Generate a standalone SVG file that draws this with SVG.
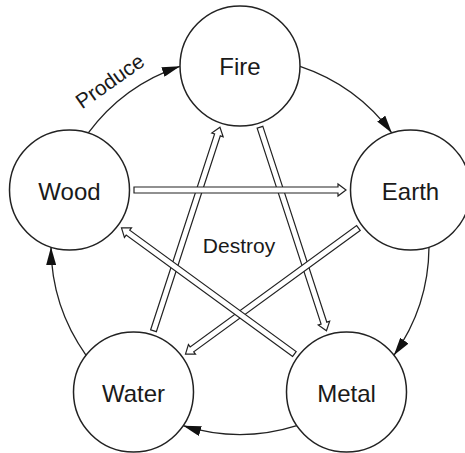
<svg xmlns="http://www.w3.org/2000/svg" width="465" height="453" viewBox="0 0 465 453">
  <style>
    .node circle { fill: #fff; stroke: #222; stroke-width: 1.5; }
    .label { font-family: "Liberation Sans", Arial, sans-serif; font-size: 24px; fill: #1a1a1a; text-anchor: middle; }
    .produce { fill: none; stroke: #222; stroke-width: 1.3; marker-end: url(#solid); }
    .destroy { fill: #fff; stroke: #222; stroke-width: 1.2; stroke-linejoin: miter; }
    .caption { font-family: "Liberation Sans", Arial, sans-serif; fill: #1a1a1a; }
  </style>
  <defs>
    <marker id="solid" markerUnits="userSpaceOnUse" viewBox="0 0 18 10" refX="18" refY="5" markerWidth="18" markerHeight="10" orient="auto">
      <path d="M0,0 L18,5 L0,10 Z" fill="#111"/>
    </marker>
  </defs>
  <rect width="465" height="453" fill="#fff"/>

  <g id="connectors">
    <g id="produce-arcs">
      <path class="produce" d="M88.1,133.1 A189,189 0 0 1 180.0,66.3"/>
      <path class="produce" d="M300.0,66.3 A189,189 0 0 1 391.9,133.1"/>
      <path class="produce" d="M429.0,247.1 A189,189 0 0 1 393.9,355.3"/>
      <path class="produce" d="M296.8,425.7 A189,189 0 0 1 183.2,425.7"/>
      <path class="produce" d="M86.1,355.3 A189,189 0 0 1 51.0,247.1"/>
    </g>
    <g id="destroy-arrows">
      <path class="destroy" transform="translate(153.5,330.7) rotate(-71.91)" d="M0,-3 L206,-3 L206,-6 L214,0 L206,6 L206,3 L0,3 Z"/>
      <path class="destroy" transform="translate(260.0,127.3) rotate(71.91)" d="M0,-3 L206,-3 L206,-6 L214,0 L206,6 L206,3 L0,3 Z"/>
      <path class="destroy" transform="translate(358.4,228.0) rotate(143.9)" d="M0,-3 L206,-3 L206,-6 L214,0 L206,6 L206,3 L0,3 Z"/>
      <path class="destroy" transform="translate(294.4,354.0) rotate(-143.9)" d="M0,-3 L206,-3 L206,-6 L214,0 L206,6 L206,3 L0,3 Z"/>
      <path class="destroy" transform="translate(134,190)" d="M0,-3 L204,-3 L204,-6 L212,0 L204,6 L204,3 L0,3 Z"/>
    </g>
  </g>

  <g id="fire" class="node">
    <circle cx="240" cy="66" r="60"/>
    <text class="label" x="240" y="75">Fire</text>
  </g>
  <g id="earth" class="node">
    <circle cx="410.5" cy="190" r="60"/>
    <text class="label" x="410.5" y="199.5">Earth</text>
  </g>
  <g id="metal" class="node">
    <circle cx="346.5" cy="392" r="60"/>
    <text class="label" x="346.5" y="401.5">Metal</text>
  </g>
  <g id="water" class="node">
    <circle cx="133.5" cy="392" r="60"/>
    <text class="label" x="133.5" y="401.5">Water</text>
  </g>
  <g id="wood" class="node">
    <circle cx="69.5" cy="190" r="60"/>
    <text class="label" x="69.5" y="199.5">Wood</text>
  </g>

  <text class="caption" font-size="21" text-anchor="middle" transform="translate(114,87) rotate(-35)">Produce</text>
  <text class="caption" font-size="21" text-anchor="middle" x="239" y="253">Destroy</text>
</svg>
